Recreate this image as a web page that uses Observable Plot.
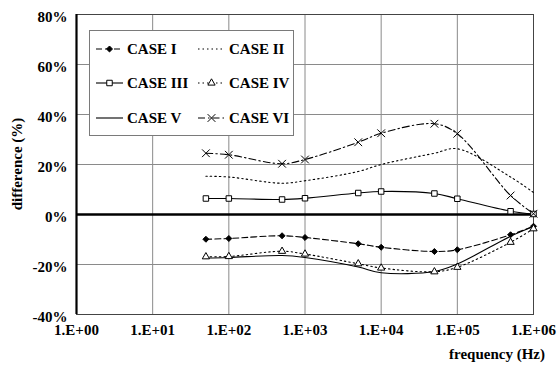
<!DOCTYPE html>
<html><head><meta charset="utf-8">
<script src="https://cdn.jsdelivr.net/npm/d3@7"></script>
<script src="https://cdn.jsdelivr.net/npm/@observablehq/plot@0.6"></script>
<style>
html,body{margin:0;padding:0;background:#fff;}
#chart svg{display:block;}
</style></head><body><div id="chart"></div>
<script>
// ---- data ----
const frequencies = [50, 100, 500, 1000, 5000, 10000, 50000, 100000, 500000, 1000000];
const caseI   = [-9.9, -9.6, -8.5, -9.2, -11.7, -13.1, -14.8, -14.1, -8.1, -4.7];
const caseII  = [15.3, 15.0, 12.5, 13.5, 17.2, 20.0, 24.5, 26.3, 15.0, 8.8];
const caseIII = [6.4, 6.4, 6.0, 6.5, 8.6, 9.2, 8.4, 6.3, 1.3, 0.2];
const caseIV  = [-16.9, -16.8, -14.7, -15.8, -19.7, -21.4, -22.9, -21.1, -11.1, -5.7];
const caseV   = [-17.4, -17.2, -16.4, -17.2, -21.0, -23.3, -22.8, -19.8, -8.7, -4.8];
const caseVI  = [24.5, 23.9, 20.3, 22.0, 28.9, 32.5, 36.3, 32.3, 7.6, 0.3];
const seriesNames = ["CASE I", "CASE II", "CASE III", "CASE IV", "CASE V", "CASE VI"];
const xTicks = [1, 10, 100, 1000, 10000, 100000, 1000000];
const xTickLabels = ["1.E+00", "1.E+01", "1.E+02", "1.E+03", "1.E+04", "1.E+05", "1.E+06"];
const yTicks = [-40, -20, 0, 20, 40, 60, 80];
const yTickLabels = ["-40%", "-20%", "0%", "20%", "40%", "60%", "80%"];
const xTitle = "frequency (Hz)";
const yTitle = "difference (%)";

// ---- styles ----
const seriesValues = [caseI, caseII, caseIII, caseIV, caseV, caseVI];
const styles = [
  {dash: "6,3", symbol: "diamond2", fill: "black", r: 2.7},
  {dash: "1.5,3", symbol: null},
  {dash: null, symbol: "square", fill: "white", r: 3.1},
  {dash: "1.5,3", symbol: "triangle", fill: "white", r: 2.7},
  {dash: null, symbol: null},
  {dash: "7,3,1.5,3", symbol: "times", fill: "none", r: 3.6}
];

const rows = [];
seriesNames.forEach((name, i) => {
  frequencies.forEach((f, j) => rows.push({series: name, idx: i, freq: f, value: seriesValues[i][j]}));
});

const marks = [
  Plot.gridX(xTicks, {stroke: "#8a8a8a", strokeOpacity: 1, strokeWidth: 1}),
  Plot.gridY(yTicks, {stroke: "#8a8a8a", strokeOpacity: 1, strokeWidth: 1}),
  Plot.frame({stroke: "#444", strokeWidth: 1}),
  Plot.ruleX([1], {stroke: "black", strokeWidth: 2.2}),
  Plot.ruleY([0], {stroke: "black", strokeWidth: 2.5})
];
seriesNames.forEach((name, i) => {
  const data = rows.filter(d => d.idx === i);
  const st = styles[i];
  marks.push(Plot.line(data, {x: "freq", y: "value", stroke: "black", strokeWidth: 1.1,
    strokeDasharray: st.dash || undefined, curve: "catmull-rom"}));
});
seriesNames.forEach((name, i) => {
  const data = rows.filter(d => d.idx === i);
  const st = styles[i];
  if (st.symbol) {
    marks.push(Plot.dot(data, {x: "freq", y: "value", symbol: () => st.symbol, r: st.r,
      fill: st.fill, stroke: "black", strokeWidth: 1}));
  }
});
marks.push(
  Plot.axisX(xTicks, {tickFormat: (d) => xTickLabels[xTicks.indexOf(d)], tickSize: 0, tickPadding: 10, label: null}),
  Plot.axisY(yTicks, {tickFormat: (d) => yTickLabels[yTicks.indexOf(d)], tickSize: 0, tickPadding: 9, label: null, dy: 3})
);

const chart = Plot.plot({
  width: 557,
  height: 365,
  marginLeft: 76,
  marginRight: 24,
  marginTop: 14,
  marginBottom: 51,
  style: {fontFamily: "'Liberation Serif', 'Times New Roman', serif", fontWeight: "bold", fontSize: "15px", color: "black", background: "white", overflow: "visible"},
  x: {type: "log", domain: [1, 1000000]},
  y: {domain: [-40, 80]},
  symbol: {type: "identity"},
  marks
});
document.getElementById("chart").appendChild(chart);

// ---- titles and legend ----
const svg = d3.select(chart);
svg.append("text").attr("x", 545).attr("y", 359).attr("text-anchor", "end")
  .attr("font-size", 15).attr("font-weight", "bold").attr("fill", "black").text(xTitle);
svg.append("text").attr("transform", "translate(17,164) rotate(-90)").attr("text-anchor", "middle")
  .attr("dominant-baseline", "central").attr("font-size", 15).attr("font-weight", "bold").attr("fill", "black").text(yTitle);

const lg = svg.append("g");
lg.append("rect").attr("x", 89.5).attr("y", 30.5).attr("width", 204).attr("height", 105)
  .attr("fill", "white").attr("stroke", "#7a7a7a").attr("stroke-width", 1);
const symMap = {diamond2: d3.symbolDiamond2, square: d3.symbolSquare, triangle: d3.symbolTriangle, times: d3.symbolTimes};
seriesNames.forEach((name, i) => {
  const col = i % 2, row = Math.floor(i / 2);
  const x0 = col === 0 ? 96 : 198, x1 = x0 + 27, cy = [49, 83, 118][row];
  const st = styles[i];
  lg.append("line").attr("x1", x0).attr("x2", x1).attr("y1", cy).attr("y2", cy)
    .attr("stroke", "black").attr("stroke-width", 1.1).attr("stroke-dasharray", st.dash || null);
  if (st.symbol) {
    lg.append("path").attr("transform", `translate(${(x0 + x1) / 2},${cy})`)
      .attr("d", d3.symbol(symMap[st.symbol], Math.PI * st.r * st.r)())
      .attr("fill", st.fill).attr("stroke", "black").attr("stroke-width", 1);
  }
  lg.append("text").attr("x", x1 + 4).attr("y", cy).attr("dy", "0.35em").attr("text-anchor", "start")
    .attr("font-size", 15).attr("font-weight", "bold").attr("fill", "black").text(name);
});
</script></body></html>
